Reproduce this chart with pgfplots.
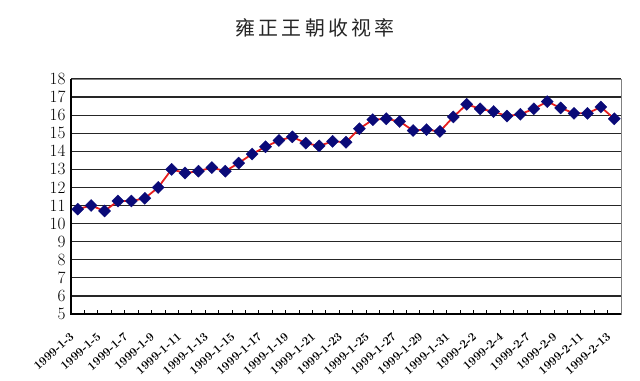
\documentclass[border=0pt]{standalone}
\usepackage{pgfplots}
\pgfplotsset{compat=1.18}
\usepackage{fontspec}
\newfontfamily\cjk{Noto Sans CJK SC}
\definecolor{navyc}{RGB}{10,10,120}
\definecolor{redc}{RGB}{230,30,30}
\pgfplotstableread{
x y
0 10.8
1 11.0
2 10.7
3 11.25
4 11.25
5 11.4
6 12.0
7 13.0
8 12.8
9 12.9
10 13.1
11 12.9
12 13.35
13 13.85
14 14.25
15 14.6
16 14.8
17 14.45
18 14.3
19 14.55
20 14.5
21 15.25
22 15.75
23 15.8
24 15.65
25 15.15
26 15.2
27 15.1
28 15.9
29 16.6
30 16.35
31 16.2
32 15.95
33 16.05
34 16.35
35 16.75
36 16.4
37 16.1
38 16.1
39 16.45
40 15.8
}\ratings
\begin{document}
\begin{tikzpicture}
\useasboundingbox (-71bp,-67bp) rectangle (569bp,314bp);
\begin{axis}[at={(0bp,0bp)}, anchor=south west, scale only axis,
  width=550bp, height=235bp,
  xmin=-0.5, xmax=40.5, ymin=5, ymax=18,
  ytick={5,...,18},
  ymajorgrids, grid style={black!85, line width=1.2bp},
  axis line style={gray, line width=0.6bp},
  xtick={0,2,...,40},
  xticklabels={1999-1-3,1999-1-5,1999-1-7,1999-1-9,1999-1-11,1999-1-13,1999-1-15,1999-1-17,1999-1-19,1999-1-21,1999-1-23,1999-1-25,1999-1-27,1999-1-29,1999-1-31,1999-2-2,1999-2-4,1999-2-7,1999-2-9,1999-2-11,1999-2-13},
  minor xtick={-0.5,0.5,...,40.5},
  major tick length=0pt, minor tick length=4bp,
  minor tick style={black, line width=0.8bp},
  xtick pos=bottom, ytick pos=left, tick align=inside,
  xticklabel style={font=\fontsize{12}{12}\selectfont\bfseries, xshift=-8bp, yshift=-13bp, rotate=42, anchor=north east},
  yticklabel style={font=\fontsize{17}{17}\selectfont, xshift=-2bp},
  clip=false,
]
\addplot[redc, line width=1.8bp, mark=square*, mark size=4.3bp,
  mark options={navyc, fill=navyc, rotate=45, line width=0.3bp}] table[x=x,y=y] {\ratings};
\draw[black, line width=1.3bp] (axis cs:-0.5,18) -- (axis cs:-0.5,5) -- (axis cs:40.5,5);
\end{axis}
\node[font=\cjk\fontsize{20}{20}\selectfont, text=black!85] at (244bp,286bp) {雍\,正\,王\,朝\,收\,视\,率};
\end{tikzpicture}
\end{document}
